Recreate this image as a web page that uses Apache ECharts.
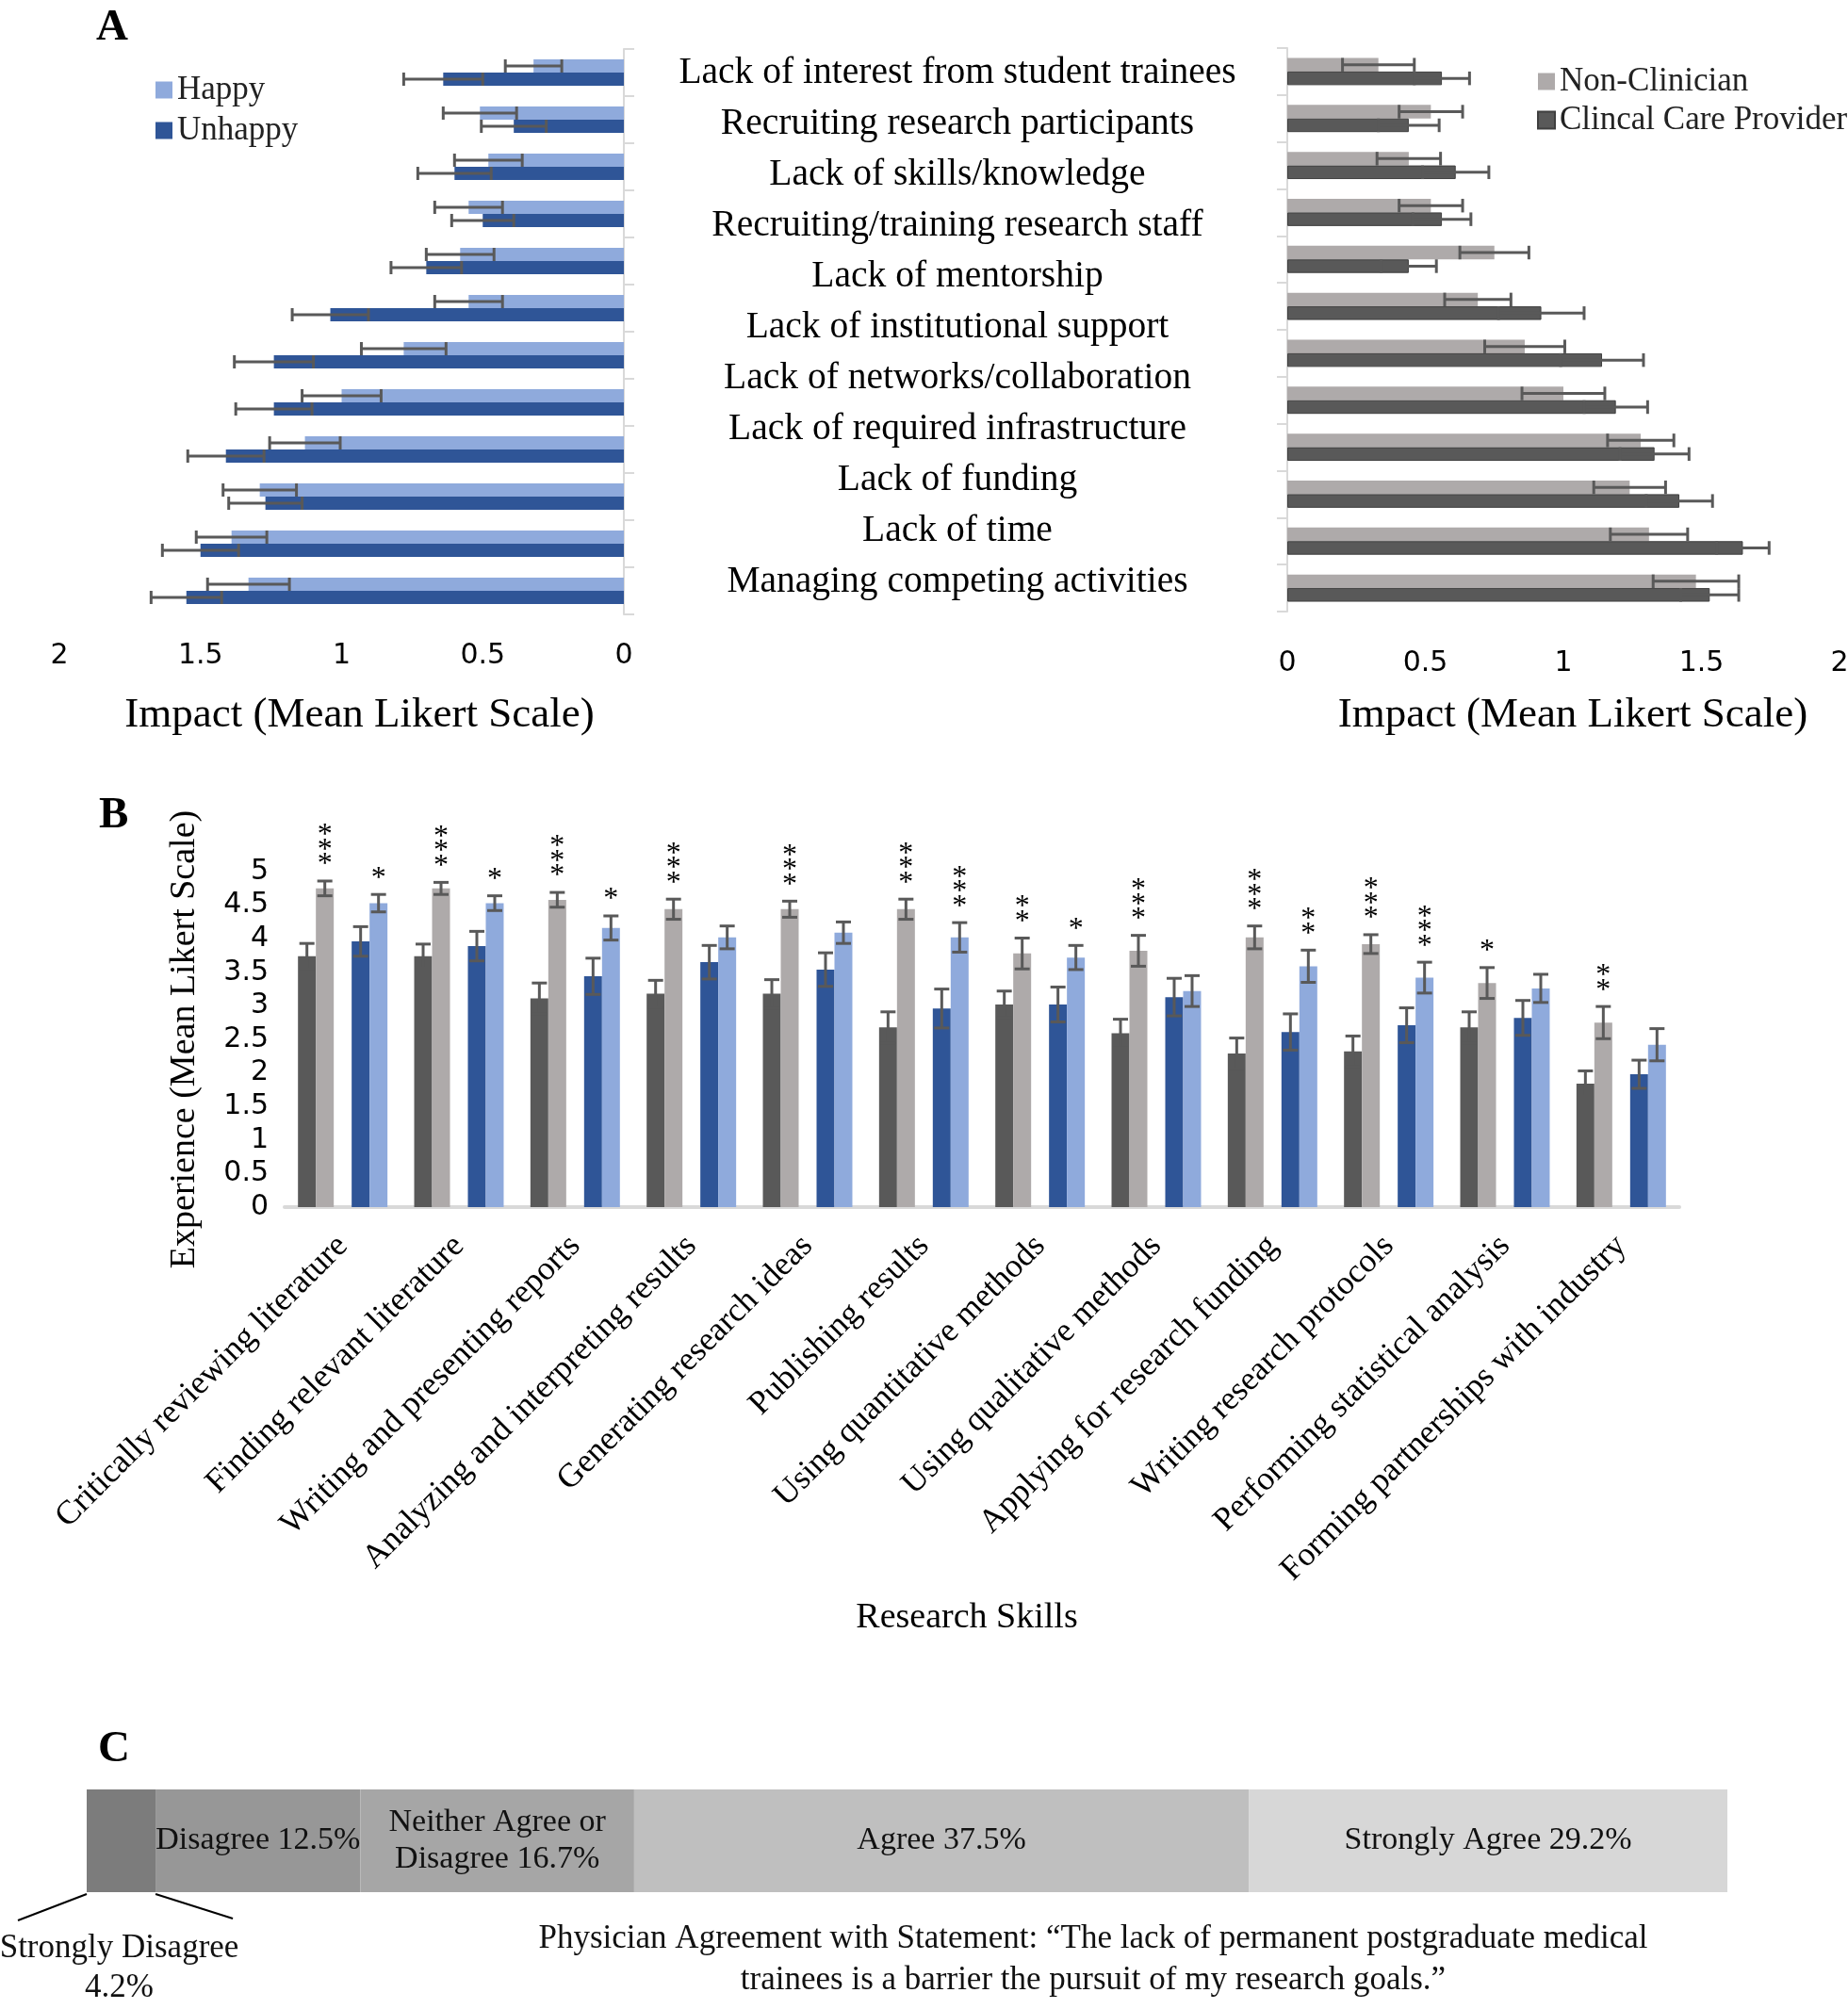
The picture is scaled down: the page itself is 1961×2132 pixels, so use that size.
<!DOCTYPE html>
<html><head><meta charset="utf-8">
<script src="https://cdn.jsdelivr.net/npm/echarts@6.0.0/dist/echarts.min.js"></script>
<style>html,body{margin:0;padding:0;background:#fff}#c{width:1961px;height:2132px}</style>
</head><body><div id="c"></div>
<script>
// ---------- Panel A data ----------
const barrierRows = ['1','2','3','4','5','6','7','8','9','10','11','12'];
const barrierLabels = ['Lack of interest from student trainees','Recruiting research participants','Lack of skills/knowledge','Recruiting/training research staff','Lack of mentorship','Lack of institutional support','Lack of networks/collaboration','Lack of required infrastructure','Lack of funding','Lack of time','Managing competing activities'];
const happyMean   = [0.32,0.51,0.48,0.55,0.58,0.55,0.78,1.00,1.13,1.29,1.39,1.33];
const happyErr    = [0.10,0.13,0.12,0.12,0.12,0.12,0.15,0.14,0.125,0.13,0.125,0.145];
const unhappyMean = [0.64,0.39,0.60,0.50,0.70,1.04,1.24,1.24,1.41,1.27,1.50,1.55];
const unhappyErr  = [0.14,0.115,0.13,0.11,0.125,0.135,0.14,0.135,0.135,0.13,0.135,0.125];
const nonClinMean = [0.33,0.52,0.44,0.52,0.75,0.69,0.86,1.00,1.28,1.24,1.31,1.48];
const nonClinErr  = [0.13,0.115,0.115,0.115,0.125,0.12,0.145,0.15,0.12,0.13,0.14,0.155];
const clinMean    = [0.56,0.44,0.61,0.56,0.44,0.92,1.14,1.19,1.33,1.42,1.65,1.53];
const clinErr     = [0.10,0.11,0.12,0.105,0.10,0.155,0.15,0.115,0.125,0.12,0.095,0.105];

// ---------- Panel B data ----------
const skills = ['Critically reviewing literature','Finding relevant literature','Writing and presenting reports','Analyzing and interpreting results','Generating research ideas','Publishing results','Using quantitative methods','Using qualitative methods','Applying for research funding','Writing research protocols','Performing statistical analysis','Forming partnerships with industry'];
const clinB       = [3.74,3.74,3.11,3.18,3.18,2.68,3.02,2.59,2.29,2.32,2.68,1.84];
const clinBErr    = [0.19,0.18,0.23,0.20,0.21,0.23,0.20,0.21,0.23,0.23,0.23,0.19];
const nonClinB    = [4.75,4.75,4.58,4.44,4.44,4.44,3.78,3.82,4.02,3.92,3.34,2.75];
const nonClinBErr = [0.11,0.09,0.11,0.15,0.12,0.15,0.23,0.23,0.17,0.14,0.23,0.24];
const unhappyB    = [3.96,3.89,3.44,3.65,3.54,2.96,3.02,3.13,2.61,2.71,2.82,1.98];
const unhappyBErr = [0.22,0.22,0.27,0.25,0.25,0.29,0.26,0.28,0.27,0.26,0.26,0.21];
const happyB      = [4.53,4.53,4.16,4.02,4.09,4.02,3.72,3.22,3.59,3.42,3.26,2.42];
const happyBErr   = [0.13,0.11,0.18,0.17,0.16,0.22,0.18,0.23,0.24,0.23,0.21,0.24];
const sigNonClinB = ['***','***','***','***','***','***','**','***','***','***','*','**'];
const sigHappyB   = ['*','*','*','','','***','*','','**','***','',''];

// ---------- Panel C data ----------
const agreeLabels = ['Strongly Disagree','Disagree','Neither Agree or\nDisagree','Agree','Strongly Agree'];
const agreeValues = [4.2,12.5,16.7,37.5,29.2];

// ---------- colours ----------
const C_HAPPY='#8faadc', C_UNHAPPY='#2f5597', C_NC='#aeaaaa', C_CCP='#595959', C_ERR='#595959';
const agreeColors = ['#7c7c7c','#979797','#a6a6a6','#bfbfbf','#d7d7d7'];
const SERIF = '"Liberation Serif","Times New Roman",serif';
const SANS = '"DejaVu Sans",sans-serif';

const gapA_L = 0.44, gapA_R = 0.42, gapB = 0.23;

function hErr(xi, yi, means, errs, slot, gap){
  return {type:'custom', xAxisIndex:xi, yAxisIndex:yi, z:5, clip:false, silent:true,
    encode:{x:0,y:1}, data: means.map((m,i)=>[m,i]),
    renderItem(params, api){
      const i = params.dataIndex, m = means[i], e = errs[i];
      const band = api.size([0,1])[1];
      const bh = band*(1-gap)/2;
      const y = api.coord([m,i])[1] + bh*(slot-0.5);
      const xa = api.coord([m-e,i])[0], xb = api.coord([m+e,i])[0];
      const h = bh*0.5;
      const st = {stroke:C_ERR, lineWidth:3};
      return {type:'group', children:[
        {type:'line', shape:{x1:xa,y1:y,x2:xb,y2:y}, style:st},
        {type:'line', shape:{x1:xa,y1:y-h,x2:xa,y2:y+h}, style:st},
        {type:'line', shape:{x1:xb,y1:y-h,x2:xb,y2:y+h}, style:st}]};
    }};
}
function vErr(means, errs, sig, slotOff){
  return {type:'custom', xAxisIndex:3, yAxisIndex:3, z:5, clip:false, silent:true,
    encode:{x:0,y:1}, data: means.map((m,i)=>[i,m]),
    renderItem(params, api){
      const i = params.dataIndex, m = means[i], e = errs[i];
      const band = api.size([1,0])[0];
      const bw = band*(1-gapB)/5;
      const x = api.coord([i,m])[0] + bw*slotOff;
      const yt = api.coord([i,m+e])[1], yb = api.coord([i,m-e])[1];
      const cw = 8;
      const st = {stroke:C_ERR, lineWidth:3};
      const ch = [
        {type:'line', shape:{x1:x,y1:yt,x2:x,y2:yb}, style:st},
        {type:'line', shape:{x1:x-cw,y1:yt,x2:x+cw,y2:yt}, style:st},
        {type:'line', shape:{x1:x-cw,y1:yb,x2:x+cw,y2:yb}, style:st}];
      const s = sig ? sig[i] : '';
      for (let k=0;k<s.length;k++){
        ch.push({type:'text', x:x, y:yt-25-15.5*k+8, style:{text:'*', font:'32px '+SERIF,
          align:'center', verticalAlign:'middle', textAlign:'center', textVerticalAlign:'middle', fill:'#000'}});
      }
      return {type:'group', children:ch};
    }};
}

const axisNum = {fontFamily:SANS, fontSize:30, color:'#000'};
const bandAxisBase = {type:'category', data:barrierRows, inverse:true,
  axisLine:{show:true, lineStyle:{color:'#d9d9d9', width:2}},
  axisTick:{show:true, length:11, lineStyle:{color:'#d9d9d9', width:2}},
  axisLabel:{show:false}, splitLine:{show:false}};

const option = {
  animation:false, backgroundColor:'#fff',
  grid:[
    {left:63, width:599, top:52, height:600, outerBoundsMode:'none', containLabel:false},
    {left:1016, width:2, top:51, height:594, outerBoundsMode:'none', containLabel:false},
    {left:1366, width:586, top:51, height:598, outerBoundsMode:'none', containLabel:false},
    {left:302, width:1480, top:925, height:356, outerBoundsMode:'none', containLabel:false},
    {left:92, width:1741, top:1899, height:109, outerBoundsMode:'none', containLabel:false}
  ],
  legend:[
    {data:['Happy','Unhappy'], orient:'vertical', left:160, top:73, itemWidth:18, itemHeight:18, itemGap:8,
     icon:'rect', textStyle:{fontFamily:SERIF, fontSize:35, color:'#222'}, selectedMode:false},
    {data:['Non-Clinician','Clincal Care Provider'], orient:'vertical', left:1626, top:64, itemWidth:18, itemHeight:18, itemGap:6,
     icon:'rect', textStyle:{fontFamily:SERIF, fontSize:35, color:'#222'}, selectedMode:false}
  ],
  xAxis:[
    {gridIndex:0, type:'value', min:0, max:2, interval:0.5, inverse:true,
     axisLine:{show:false}, axisTick:{show:false}, splitLine:{show:false},
     axisLabel:{...axisNum, margin:29},
     name:'Impact (Mean Likert Scale)', nameLocation:'middle', nameGap:85,
     nameTextStyle:{fontFamily:SERIF, fontSize:45, color:'#000', padding:[0,0,0,38]}},
    {gridIndex:1, type:'value', show:false},
    {gridIndex:2, type:'value', min:0, max:2, interval:0.5,
     axisLine:{show:false}, axisTick:{show:false}, splitLine:{show:false},
     axisLabel:{...axisNum, margin:40},
     name:'Impact (Mean Likert Scale)', nameLocation:'middle', nameGap:88,
     nameTextStyle:{fontFamily:SERIF, fontSize:45, color:'#000', padding:[0,0,0,20]}},
    {gridIndex:3, type:'category', data:skills,
     axisLine:{show:true, lineStyle:{color:'#d9d9d9', width:4}}, axisTick:{show:false},
     axisLabel:{interval:0, rotate:45, margin:36, fontFamily:SERIF, fontSize:35.5, color:'#000'},
     name:'Research Skills', nameLocation:'middle', nameGap:417,
     nameTextStyle:{fontFamily:SERIF, fontSize:38, color:'#000', padding:[0,32,0,0]}},
    {gridIndex:4, type:'value', min:0, max:agreeValues.reduce((a,b)=>a+b,0), show:false}
  ],
  yAxis:[
    {...bandAxisBase, gridIndex:0, position:'right'},
    {gridIndex:1, type:'category', data:barrierLabels, inverse:true, position:'left',
     axisLine:{show:false}, axisTick:{show:false}, splitLine:{show:false},
     axisLabel:{interval:0, align:'center', margin:0, fontFamily:SERIF, fontSize:39.5, color:'#000'}},
    {...bandAxisBase, gridIndex:2, position:'left'},
    {gridIndex:3, type:'value', min:0, max:5, interval:0.5,
     axisLine:{show:false}, axisTick:{show:false}, splitLine:{show:false},
     axisLabel:{...axisNum, margin:17},
     name:'Experience (Mean Likert Scale)', nameLocation:'middle', nameRotate:90, nameGap:87,
     nameTextStyle:{fontFamily:SERIF, fontSize:38, color:'#000'}},
    {gridIndex:4, type:'category', data:['x'], show:false}
  ],
  series:[
    // Panel A left
    {name:'Happy', type:'bar', xAxisIndex:0, yAxisIndex:0, data:happyMean, barGap:'0%', barCategoryGap:(gapA_L*100)+'%', itemStyle:{color:C_HAPPY}},
    {name:'Unhappy', type:'bar', xAxisIndex:0, yAxisIndex:0, data:unhappyMean, barGap:'0%', barCategoryGap:(gapA_L*100)+'%', itemStyle:{color:C_UNHAPPY}},
    hErr(0,0,happyMean,happyErr,0,gapA_L),
    hErr(0,0,unhappyMean,unhappyErr,1,gapA_L),
    // Panel A right
    {name:'Non-Clinician', type:'bar', xAxisIndex:2, yAxisIndex:2, data:nonClinMean, barGap:'0%', barCategoryGap:(gapA_R*100)+'%', itemStyle:{color:C_NC}},
    {name:'Clincal Care Provider', type:'bar', xAxisIndex:2, yAxisIndex:2, data:clinMean, barGap:'0%', barCategoryGap:(gapA_R*100)+'%', itemStyle:{color:C_CCP, borderColor:'#3f3f3f', borderWidth:1}},
    hErr(2,2,nonClinMean,nonClinErr,0,gapA_R),
    hErr(2,2,clinMean,clinErr,1,gapA_R),
    // Panel B
    {name:'B-CCP', type:'bar', xAxisIndex:3, yAxisIndex:3, data:clinB, barGap:'0%', barCategoryGap:(gapB*100)+'%', itemStyle:{color:C_CCP}},
    {name:'B-NC', type:'bar', xAxisIndex:3, yAxisIndex:3, data:nonClinB, barGap:'0%', barCategoryGap:(gapB*100)+'%', itemStyle:{color:C_NC}},
    {name:'B-spacer', type:'bar', xAxisIndex:3, yAxisIndex:3, data:skills.map(()=>null), barGap:'0%', barCategoryGap:(gapB*100)+'%'},
    {name:'B-Unhappy', type:'bar', xAxisIndex:3, yAxisIndex:3, data:unhappyB, barGap:'0%', barCategoryGap:(gapB*100)+'%', itemStyle:{color:C_UNHAPPY}},
    {name:'B-Happy', type:'bar', xAxisIndex:3, yAxisIndex:3, data:happyB, barGap:'0%', barCategoryGap:(gapB*100)+'%', itemStyle:{color:C_HAPPY}},
    vErr(clinB, clinBErr, null, -2),
    vErr(nonClinB, nonClinBErr, sigNonClinB, -1),
    vErr(unhappyB, unhappyBErr, null, 1),
    vErr(happyB, happyBErr, sigHappyB, 2),
    // Panel C
    ...agreeValues.map((v,i)=>({name:agreeLabels[i], type:'bar', stack:'agree', xAxisIndex:4, yAxisIndex:4,
      data:[v], barWidth:'100%', itemStyle:{color:agreeColors[i]},
      label:{show:i>0, position:'inside', formatter:p=>p.seriesName+' '+p.value+'%',
        fontFamily:SERIF, fontSize:34, lineHeight:39, color:'#111'}})),
    {type:'custom', xAxisIndex:4, yAxisIndex:4, z:5, clip:false, silent:true, encode:{x:0,y:1},
     data:[[agreeValues[0],0]],
     renderItem(params, api){
       const v = agreeValues[0];
       const xl = api.coord([0,0])[0], xr = api.coord([v,0])[0];
       const band = api.size([0,1])[1];
       const yb = api.coord([0,0])[1] + band/2;
       const st = {stroke:'#000', lineWidth:2};
       return {type:'group', children:[
         {type:'line', shape:{x1:xl,y1:yb+2,x2:xl-73,y2:yb+30}, style:st},
         {type:'line', shape:{x1:xr,y1:yb+2,x2:xr+82,y2:yb+28}, style:st},
         {type:'text', x:(xl+xr)/2-2, y:yb+39, style:{text:agreeLabels[0]+'\n'+v+'%', font:'35px '+SERIF, lineHeight:42,
           align:'center', verticalAlign:'top', textAlign:'center', textVerticalAlign:'top', fill:'#111'}}
       ]};
     }}
  ],
  graphic:[
    {type:'text', left:102, top:6, style:{text:'A', font:'bold 47px '+SERIF, fill:'#000'}},
    {type:'text', left:105, top:842, style:{text:'B', font:'bold 47px '+SERIF, fill:'#000'}},
    {type:'text', left:104, top:1833, style:{text:'C', font:'bold 47px '+SERIF, fill:'#000'}},
    {type:'text', x:1160, y:2036, style:{text:'Physician Agreement with Statement: \u201cThe lack of permanent postgraduate medical\ntrainees is a barrier the pursuit of my research goals.\u201d',
      font:'35px '+SERIF, lineHeight:44, align:'center', textAlign:'center', fill:'#111'}}
  ]
};
const chart = echarts.init(document.getElementById('c'), null, {renderer:'canvas'});
chart.setOption(option);
</script></body></html>
